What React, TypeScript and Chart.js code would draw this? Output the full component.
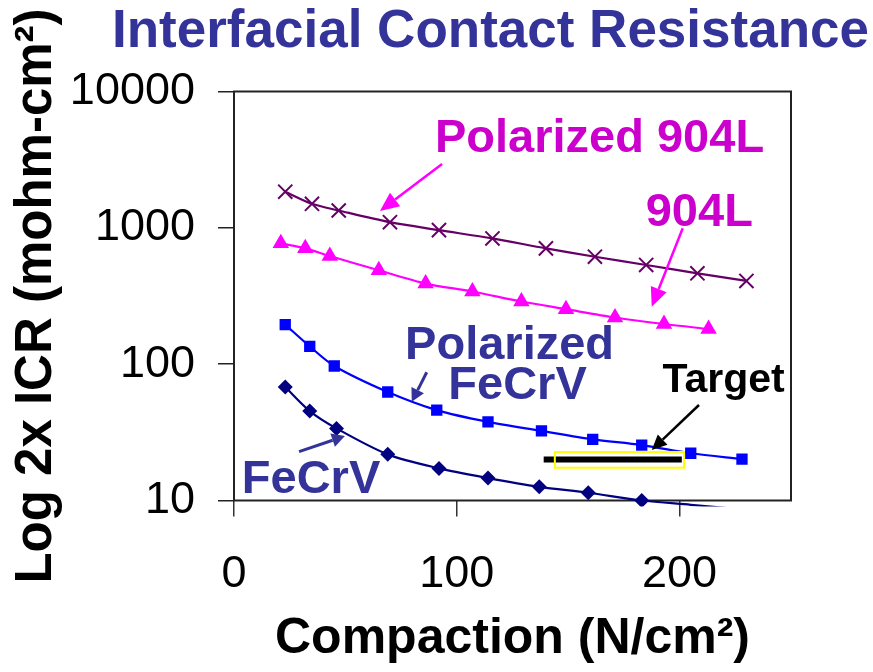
import { useEffect, useRef } from 'react';
import { Chart, registerables } from 'chart.js';

Chart.register(...registerables);

const FONT = '"Liberation Sans", Arial, Helvetica, sans-serif';

const chartTitle = 'Interfacial Contact Resistance';
const xAxisTitle = 'Compaction (N/cm²)';
const yAxisTitle = 'Log 2x ICR (mohm-cm²)';

const xTickValues = [0, 100, 200];
const xTickLabels = ['0', '100', '200'];
const yTickValues = [10, 100, 1000, 10000];
const yTickLabels = ['10', '100', '1000', '10000'];

const seriesNames = ['Polarized 904L', '904L', 'Polarized FeCrV', 'FeCrV', 'Target'];

const polarized904LX = [23, 35, 47, 70, 92, 116, 140, 162, 185, 208, 230];
const polarized904LY = [1840, 1500, 1340, 1100, 962, 836, 707, 614, 534, 464, 408];

const l904X = [21, 32, 43, 65, 86, 107, 129, 149, 171, 193, 213];
const l904Y = [770, 707, 621, 488, 390, 341, 288, 253, 220, 197, 181];

const polarizedFeCrVX = [23, 34, 45, 69, 91, 114, 138, 161, 183, 205, 228];
const polarizedFeCrVY = [195, 135, 97, 62.5, 46, 37.7, 32.4, 28.1, 25.5, 22.2, 20.1];

const feCrVX = [23, 34, 46, 69, 92, 114, 137, 159, 183, 205, 228];
const feCrVY = [68, 45.3, 33.8, 21.8, 17.2, 14.6, 12.6, 11.4, 10, 9.3, 8.6];

const targetX = [139, 201];
const targetY = [20, 20];

// annotation texts (left/baseline anchor in data units)
const noteTexts = ['Polarized 904L', '904L', 'Polarized', 'FeCrV', 'FeCrV', 'Target'];
const noteAnchorX = [90.2, 184.8, 76.8, 96.2, 3.5, 192.3];
const noteAnchorY = [3622, 1038, 109, 55.3, 11.4, 62.9];
const noteColors = ['#CC00CC', '#CC00CC', '#333399', '#333399', '#333399', '#000000'];
const noteSizes = [47, 47, 47, 47, 47, 41];

// arrows: tail -> tip in data units
const arrowTailX = [93.4, 201.4, 86.5, 29.2, 208.7];
const arrowTailY = [2943, 993, 87.2, 22.8, 50.2];
const arrowTipX = [65.5, 187.5, 79.8, 49.8, 187.5];
const arrowTipY = [1330, 264, 53.1, 29.7, 23.5];
const arrowColors = ['#FF00FF', '#FF00FF', '#333399', '#333399', '#000000'];

// yellow target box
const boxX = [144, 202];
const boxY = [22.7, 17.4];

const toPts = (xs: number[], ys: number[]) => xs.map((v, i) => ({ x: v, y: ys[i] }));

function drawArrow(ctx: CanvasRenderingContext2D, x1: number, y1: number, x2: number, y2: number, color: string, lw: number, headLen: number, headHalf: number) {
  const ang = Math.atan2(y2 - y1, x2 - x1);
  const bx = x2 - headLen * Math.cos(ang);
  const by = y2 - headLen * Math.sin(ang);
  ctx.save();
  ctx.strokeStyle = color;
  ctx.fillStyle = color;
  ctx.lineWidth = lw;
  ctx.lineCap = 'butt';
  ctx.beginPath();
  ctx.moveTo(x1, y1);
  ctx.lineTo(bx, by);
  ctx.stroke();
  ctx.beginPath();
  ctx.moveTo(x2, y2);
  ctx.lineTo(bx + headHalf * Math.sin(ang), by - headHalf * Math.cos(ang));
  ctx.lineTo(bx - headHalf * Math.sin(ang), by + headHalf * Math.cos(ang));
  ctx.closePath();
  ctx.fill();
  ctx.restore();
}

const decorPlugin = {
  id: 'decor',
  beforeDatasetsDraw(chart: any) {
    const { ctx, chartArea: a } = chart;
    ctx.save();
    ctx.strokeStyle = '#222222';
    ctx.lineWidth = 2;
    ctx.strokeRect(a.left, a.top, a.right - a.left, a.bottom - a.top);
    ctx.restore();
  },
  afterDatasetsDraw(chart: any) {
    const { ctx } = chart;
    const xs = chart.scales.x;
    const ys = chart.scales.y;
    // yellow box
    ctx.save();
    ctx.strokeStyle = '#FFFF00';
    ctx.lineWidth = 2;
    const bx1 = xs.getPixelForValue(boxX[0]);
    const bx2 = xs.getPixelForValue(boxX[1]);
    const by1 = ys.getPixelForValue(boxY[0]);
    const by2 = ys.getPixelForValue(boxY[1]);
    ctx.strokeRect(bx1, by1, bx2 - bx1, by2 - by1);
    ctx.restore();
    // arrows
    for (let i = 0; i < arrowTailX.length; i++) {
      const isNavy = arrowColors[i] === '#333399';
      const isMagenta = arrowColors[i] === '#FF00FF';
      drawArrow(
        ctx,
        xs.getPixelForValue(arrowTailX[i]),
        ys.getPixelForValue(arrowTailY[i]),
        xs.getPixelForValue(arrowTipX[i]),
        ys.getPixelForValue(arrowTipY[i]),
        arrowColors[i],
        isNavy ? 3 : 2.5,
        isMagenta ? 19 : isNavy ? 13 : 15,
        isMagenta ? 8.5 : 7
      );
    }
    // labels
    ctx.save();
    ctx.textAlign = 'left';
    ctx.textBaseline = 'alphabetic';
    for (let i = 0; i < noteTexts.length; i++) {
      ctx.font = `bold ${noteSizes[i]}px ${FONT}`;
      ctx.fillStyle = noteColors[i];
      ctx.fillText(noteTexts[i], xs.getPixelForValue(noteAnchorX[i]), ys.getPixelForValue(noteAnchorY[i]));
    }
    ctx.restore();
  },
  afterDraw(chart: any) {
    const { ctx } = chart;
    ctx.save();
    ctx.font = `bold 53px ${FONT}`;
    ctx.fillStyle = '#333399';
    ctx.textAlign = 'right';
    ctx.textBaseline = 'alphabetic';
    ctx.fillText(chartTitle, chart.width - 4, 47);
    ctx.restore();
  },
};

export default function App() {
  const canvasRef = useRef<HTMLCanvasElement | null>(null);

  useEffect(() => {
    const canvas = canvasRef.current;
    if (!canvas) return;
    const chart = new Chart(canvas, {
      type: 'line',
      data: {
        datasets: [
          {
            label: seriesNames[0],
            data: toPts(polarized904LX, polarized904LY),
            borderColor: '#660066',
            backgroundColor: '#660066',
            pointStyle: 'crossRot',
            pointRadius: 10,
            pointBorderWidth: 2,
            pointBorderColor: '#660066',
            borderWidth: 2.2,
            tension: 0.3,
          },
          {
            label: seriesNames[1],
            data: toPts(l904X, l904Y),
            borderColor: '#FF00FF',
            backgroundColor: '#FF00FF',
            pointStyle: 'triangle',
            pointRadius: 9.5,
            pointBorderWidth: 0,
            pointBackgroundColor: '#FF00FF',
            borderWidth: 2.2,
            tension: 0.3,
          },
          {
            label: seriesNames[2],
            data: toPts(polarizedFeCrVX, polarizedFeCrVY),
            borderColor: '#0000FF',
            backgroundColor: '#0000FF',
            pointStyle: 'rect',
            pointRadius: 8,
            pointBorderWidth: 0,
            pointBackgroundColor: '#0000FF',
            borderWidth: 2.2,
            tension: 0.3,
          },
          {
            label: seriesNames[3],
            data: toPts(feCrVX, feCrVY),
            borderColor: '#000080',
            backgroundColor: '#000080',
            pointStyle: 'rectRot',
            pointRadius: (c: any) => (c.raw && c.raw.y < yTickValues[0] ? 0 : 7.5),
            pointBorderWidth: 0,
            pointBackgroundColor: '#000080',
            borderWidth: 2.2,
            tension: 0.3,
            clip: { left: 30, top: 30, right: 30, bottom: 6 },
          },
          {
            label: seriesNames[4],
            data: toPts(targetX, targetY),
            borderColor: '#000000',
            borderWidth: 6,
            pointRadius: 0,
            tension: 0,
          },
        ],
      } as any,
      options: {
        animation: false,
        responsive: false,
        events: [],
        layout: { padding: { top: 91.5, right: 82, bottom: 0, left: 0 } },
        plugins: {
          legend: { display: false },
          tooltip: { enabled: false },
          title: { display: false },
        },
        scales: {
          x: {
            type: 'linear',
            min: 0,
            max: 250,
            afterFit: (s: any) => {
              s.height = 171.5;
            },
            afterBuildTicks: (s: any) => {
              s.ticks = xTickValues.map((v) => ({ value: v }));
            },
            grid: { display: true, drawOnChartArea: false, drawTicks: true, tickLength: 16, color: '#333333', lineWidth: 1.5 },
            border: { display: false },
            ticks: {
              padding: 31,
              color: '#000000',
              font: { family: FONT, size: 45 },
              maxRotation: 0,
              callback: (v: any) => {
                const i = xTickValues.indexOf(Number(v));
                return i >= 0 ? xTickLabels[i] : '';
              },
            },
            title: {
              display: true,
              text: xAxisTitle,
              color: '#000000',
              font: { family: FONT, size: 50, weight: 'bold' },
              padding: { top: 0, bottom: 3 },
            },
          },
          y: {
            type: 'logarithmic',
            min: 10,
            max: 10000,
            afterFit: (s: any) => {
              s.width = 234;
            },
            afterBuildTicks: (s: any) => {
              s.ticks = yTickValues.map((v) => ({ value: v }));
            },
            grid: { display: true, drawOnChartArea: false, drawTicks: true, tickLength: 16, color: '#222222', lineWidth: 1.5 },
            border: { display: false },
            ticks: {
              padding: 23,
              color: '#000000',
              font: { family: FONT, size: 45 },
              callback: (v: any) => {
                const i = yTickValues.indexOf(Number(v));
                return i >= 0 ? yTickLabels[i] : '';
              },
            },
            title: {
              display: true,
              text: yAxisTitle,
              color: '#000000',
              font: { family: FONT, size: 51, weight: 'bold' },
              padding: { top: 6, bottom: 0 },
            },
          },
        },
      } as any,
      plugins: [decorPlugin],
    });
    return () => chart.destroy();
  }, []);

  return (
    <div style={{ position: 'absolute', left: 0, top: 0, width: 873, height: 672, background: '#ffffff' }}>
      <canvas ref={canvasRef} width={873} height={672} style={{ display: 'block' }} />
    </div>
  );
}
